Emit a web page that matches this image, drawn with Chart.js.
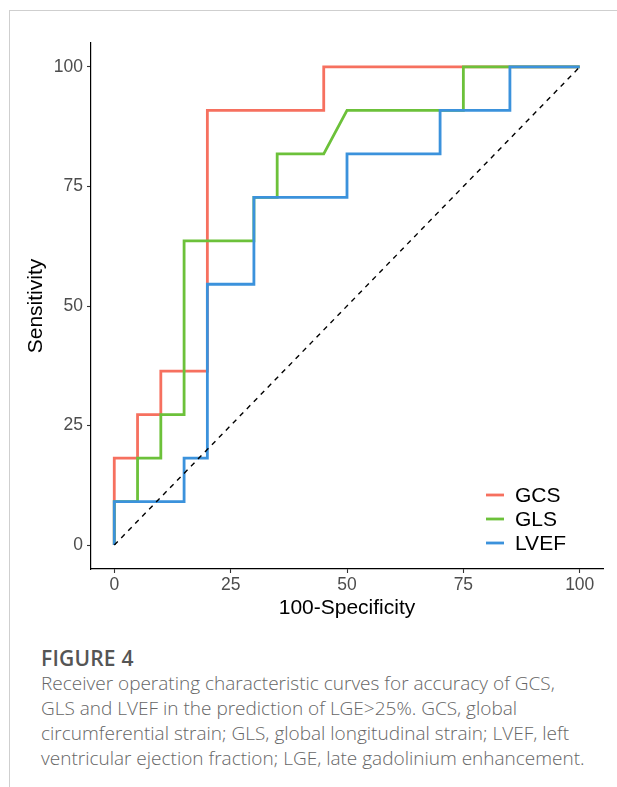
<!DOCTYPE html>
<html>
<head>
<meta charset="utf-8">
<script src="https://cdn.jsdelivr.net/npm/chart.js@4.4.1/dist/chart.umd.min.js"></script>
<style>
    html, body { margin: 0; padding: 0; background: #fff; }
    body { width: 617px; height: 787px; position: relative; overflow: hidden; }
    .frame {
        position: absolute; left: 9px; top: 10px; right: 0; bottom: 0;
        border-top: 1px solid #cfcfcf; border-left: 1px solid #cfcfcf;
    }
    #chartWrap { position: absolute; left: 0; top: 0; width: 617px; height: 630px; }
    .caption {
        position: absolute; left: 41px; top: 646px; width: 576px;
        font-family: "Open Sans", sans-serif; color: #666; font-size: 19px;
        line-height: 25px; font-weight: 300; white-space: nowrap;
    }
    .caption .fig { color: #555; font-weight: 600; font-size: 21px; letter-spacing: 0.2px; }
</style>
</head>
<body>
<div class="frame"></div>
<div id="chartWrap"><canvas id="rocChart" width="617" height="630"></canvas></div>
<div class="caption">
    <div class="fig">FIGURE 4</div>
    Receiver operating characteristic curves for accuracy of GCS,<br>
    GLS and LVEF in the prediction of LGE&gt;25%. GCS, global<br>
    circumferential strain; GLS, global longitudinal strain; LVEF, left<br>
    ventricular ejection fraction; LGE, late gadolinium enhancement.
</div>
<script>
    // ROC curve points (100-specificity, sensitivity)
    const S = 100 / 11;
    const FONT = "Arial, 'Liberation Sans', Helvetica, sans-serif";
    const seriesNames = ['GCS', 'GLS', 'LVEF'];
    const seriesColors = ['#F6705F', '#6CC13A', '#3B92DC'];

    const gcsX = [0, 0, 5, 5, 10, 10, 20, 20, 45, 45, 100];
    const gcsY = [0, 2 * S, 2 * S, 3 * S, 3 * S, 4 * S, 4 * S, 10 * S, 10 * S, 100, 100];

    const glsX = [0, 0, 5, 5, 10, 10, 15, 15, 30, 30, 35, 35, 45, 50, 75, 75, 100];
    const glsY = [0, 1 * S, 1 * S, 2 * S, 2 * S, 3 * S, 3 * S, 7 * S, 7 * S, 8 * S, 8 * S, 9 * S, 9 * S, 10 * S, 10 * S, 100, 100];

    const lvefX = [0, 0, 15, 15, 20, 20, 30, 30, 50, 50, 70, 70, 85, 85, 100];
    const lvefY = [0, 1 * S, 1 * S, 2 * S, 2 * S, 6 * S, 6 * S, 8 * S, 8 * S, 9 * S, 9 * S, 10 * S, 10 * S, 100, 100];

    const refX = [0, 100];
    const refY = [0, 100];

    const tickValues = [0, 25, 50, 75, 100];

    const toPoints = (xs, ys) => xs.map((x, i) => ({ x: x, y: ys[i] }));

    const curveSets = [
        toPoints(gcsX, gcsY),
        toPoints(glsX, glsY),
        toPoints(lvefX, lvefY)
    ];

    const datasets = curveSets.map((pts, i) => ({
        label: seriesNames[i],
        data: pts,
        borderColor: seriesColors[i],
        borderWidth: 2.8,
        pointRadius: 0,
        fill: false,
        tension: 0,
        order: 3 - i
    }));

    // reference diagonal
    datasets.push({
        label: 'ref',
        data: toPoints(refX, refY),
        borderColor: '#000',
        borderWidth: 1.4,
        borderDash: [5, 5],
        pointRadius: 0,
        fill: false,
        order: 0
    });

    const legendPlugin = {
        id: 'rocLegend',
        afterDraw: (chart) => {
            const ctx = chart.ctx;
            ctx.save();
            ctx.font = '21px ' + FONT;
            ctx.textBaseline = 'middle';
            ctx.textAlign = 'left';
            seriesNames.forEach((name, i) => {
                const y = 495 + i * 24;
                ctx.strokeStyle = seriesColors[i];
                ctx.lineWidth = 2.8;
                ctx.beginPath();
                ctx.moveTo(486, y);
                ctx.lineTo(504, y);
                ctx.stroke();
                ctx.fillStyle = '#000';
                ctx.fillText(name, 515, y + 1);
            });
            ctx.restore();
        }
    };

    const setTicks = (axis) => {
        axis.ticks = tickValues.map(v => ({ value: v }));
    };

    new Chart('rocChart', {
        type: 'line',
        data: { datasets: datasets },
        options: {
            responsive: false,
            animation: false,
            layout: { padding: { left: 20, right: 14, top: 43, bottom: 6 } },
            plugins: {
                legend: { display: false },
                tooltip: { enabled: false }
            },
            scales: {
                x: {
                    type: 'linear',
                    min: -5,
                    max: 105,
                    afterBuildTicks: setTicks,
                    afterFit: (scale) => { scale.height = 55; },
                    border: { display: true, color: '#000', width: 1.2 },
                    grid: { drawOnChartArea: false, tickLength: 4, tickColor: '#333', tickWidth: 1.1 },
                    ticks: {
                        color: '#4D4D4D',
                        padding: 2,
                        maxRotation: 0,
                        font: { size: 17.5, family: FONT }
                    },
                    title: {
                        display: true,
                        text: '100-Specificity',
                        color: '#000',
                        padding: { top: 0, bottom: 3 },
                        font: { size: 21, family: FONT }
                    }
                },
                y: {
                    type: 'linear',
                    min: -5,
                    max: 105,
                    afterBuildTicks: setTicks,
                    afterFit: (scale) => { scale.width = 71; },
                    border: { display: true, color: '#000', width: 1.2 },
                    grid: { drawOnChartArea: false, tickLength: 4, tickColor: '#333', tickWidth: 1.1 },
                    ticks: {
                        color: '#4D4D4D',
                        padding: 4,
                        font: { size: 17.5, family: FONT }
                    },
                    title: {
                        display: true,
                        text: 'Sensitivity',
                        color: '#000',
                        padding: { top: 4, bottom: 0 },
                        font: { size: 21, family: FONT }
                    }
                }
            }
        },
        plugins: [legendPlugin]
    });
</script>
</body>
</html>
